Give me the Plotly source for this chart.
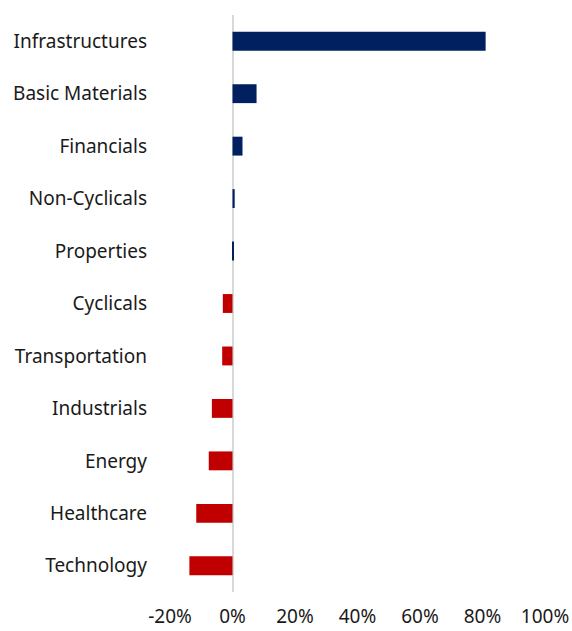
import plotly.graph_objects as go

# Sector returns (%), top to bottom
sectors = [
    "Infrastructures", "Basic Materials", "Financials", "Non-Cyclicals",
    "Properties", "Cyclicals", "Transportation", "Industrials",
    "Energy", "Healthcare", "Technology",
]
returns_pct = [81.0, 7.7, 3.2, 0.7, 0.4, -3.1, -3.3, -6.6, -7.6, -11.6, -13.8]

x_tick_vals = [-20, 0, 20, 40, 60, 80, 100]
x_tick_text = ["-20%", "0%", "20%", "40%", "60%", "80%", "100%"]

POS_COLOR = "#002060"
NEG_COLOR = "#C00000"
bar_colors = [POS_COLOR if v >= 0 else NEG_COLOR for v in returns_pct]

fig = go.Figure(
    go.Bar(
        x=returns_pct,
        y=sectors,
        orientation="h",
        marker=dict(color=bar_colors, line=dict(width=0)),
        width=0.36,
    )
)

font_family = "Noto Sans, Open Sans, sans-serif"

fig.update_layout(
    width=572,
    height=631,
    margin=dict(l=170, r=27, t=15, b=39),
    paper_bgcolor="white",
    plot_bgcolor="white",
    showlegend=False,
    font=dict(family=font_family, size=19, color="#1a1a1a"),
)

fig.update_xaxes(
    range=[-20, 100],
    tickvals=x_tick_vals,
    ticktext=x_tick_text,
    showgrid=False,
    showline=False,
    zeroline=True,
    zerolinecolor="#d9d9d9",
    zerolinewidth=2,
    ticks="",
    ticklabelstandoff=11,
    automargin=False,
)

fig.update_yaxes(
    categoryorder="array",
    categoryarray=sectors,
    autorange="reversed",
    showgrid=False,
    showline=False,
    ticks="",
    ticklabelstandoff=22,
    automargin=False,
)

fig.write_html("out.html")
